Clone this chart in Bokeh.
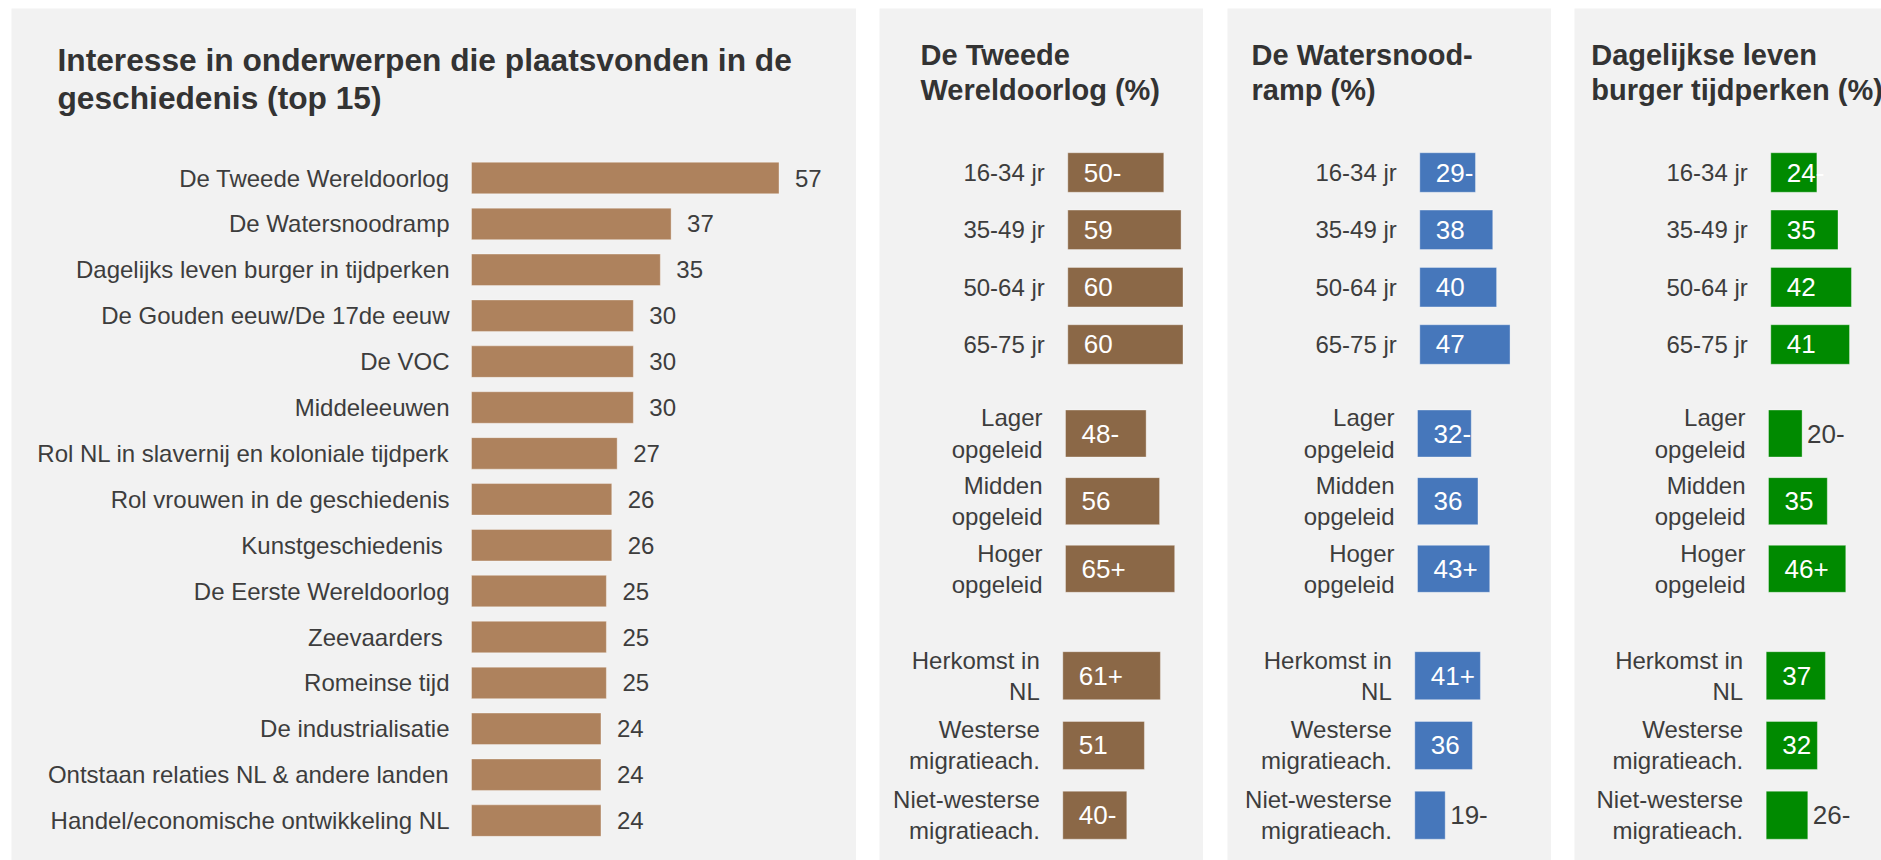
from bokeh.plotting import figure
from bokeh.models import Range1d, Label, ColumnDataSource
from bokeh.layouts import row
from bokeh.embed import file_html
from bokeh.resources import INLINE
from bokeh.core.properties import value

# ---------------- data ----------------
topics = [
    "De Tweede Wereldoorlog",
    "De Watersnoodramp",
    "Dagelijks leven burger in tijdperken",
    "De Gouden eeuw/De 17de eeuw",
    "De VOC",
    "Middeleeuwen",
    "Rol NL in slavernij en koloniale tijdperk",
    "Rol vrouwen in de geschiedenis",
    "Kunstgeschiedenis ",
    "De Eerste Wereldoorlog",
    "Zeevaarders ",
    "Romeinse tijd",
    "De industrialisatie",
    "Ontstaan relaties NL & andere landen",
    "Handel/economische ontwikkeling NL",
]
topic_values = [57, 37, 35, 30, 30, 30, 27, 26, 26, 25, 25, 25, 24, 24, 24]

age_labels = ["16-34 jr", "35-49 jr", "50-64 jr", "65-75 jr"]
edu_labels = ["Lager\nopgeleid", "Midden\nopgeleid", "Hoger\nopgeleid"]
mig_labels = ["Herkomst in\nNL", "Westerse\nmigratieach.", "Niet-westerse\nmigratieach."]

ww2_age = [50, 59, 60, 60]
ww2_age_sig = ["-", "", "", ""]
ww2_edu = [48, 56, 65]
ww2_edu_sig = ["-", "", "+"]
ww2_mig = [61, 51, 40]
ww2_mig_sig = ["+", "", "-"]

water_age = [29, 38, 40, 47]
water_age_sig = ["-", "", "", ""]
water_edu = [32, 36, 43]
water_edu_sig = ["-", "", "+"]
water_mig = [41, 36, 19]
water_mig_sig = ["+", "", "-"]

daily_age = [24, 35, 42, 41]
daily_age_sig = ["-", "", "", ""]
daily_edu = [20, 35, 46]
daily_edu_sig = ["-", "", "+"]
daily_mig = [37, 32, 26]
daily_mig_sig = ["", "", "-"]

title_main = ["Interesse in onderwerpen die plaatsvonden in de", "geschiedenis (top 15)"]
title_ww2 = ["De Tweede", "Wereldoorlog (%)"]
title_water = ["De Watersnood-", "ramp (%)"]
title_daily = ["Dagelijkse leven", "burger tijdperken (%)"]

# ---------------- style ----------------
FONT = "Liberation Sans"
BG = "#f2f2f2"
TXT = "#3d3d3d"
TITLE_C = "#333333"
C_MAIN = "#ae825d"
C_WW2 = "#8b6847"
C_WATER = "#4677bb"
C_DAILY = "#008a00"
H = 852
TOP = 8


def xrange_px(zero, ppu, length):
    return Range1d(start=-zero / ppu, end=(length - zero) / ppu)


def yrange_px(zero, ppu, length):
    # index increases downwards
    return Range1d(start=(length - zero) / ppu, end=-zero / ppu)


def base_fig(w, margin_left):
    p = figure(width=w, height=H, x_range=Range1d(0, 1), y_range=Range1d(0, 1),
               toolbar_location=None, output_backend="svg", min_border=0,
               x_axis_location=None, y_axis_location=None,
               background_fill_color=BG, border_fill_color=BG,
               outline_line_color=None)
    p.grid.visible = False
    p.margin = (TOP, 0, 0, margin_left)
    return p


def add_title(p, lines, x, baselines, size):
    for t, b in zip(lines, baselines):
        p.add_layout(Label(x=x, y=H - b, x_units="screen", y_units="screen", text=t,
                           text_font=FONT, text_font_size=f"{size}px",
                           text_font_style="bold", text_color=TITLE_C,
                           text_baseline="alphabetic", text_align="left"))


# ---------------- panel 1 ----------------
W1 = 845
p1 = base_fig(W1, 11)
X1_ZERO, X1_PPU = 460.0, 5.395
Y1_ZERO, Y1_PITCH, Y1_BAR = 169.5, 45.9, 31.5
p1.x_range = xrange_px(X1_ZERO, X1_PPU, W1)
p1.y_range = yrange_px(Y1_ZERO, Y1_PITCH, H)
src1 = ColumnDataSource(dict(y=list(range(len(topics))), v=topic_values, name=topics,
                             lbl=[str(v) for v in topic_values]))
p1.hbar(y="y", left=0, right="v", height=Y1_BAR / Y1_PITCH, source=src1,
        fill_color=C_MAIN, line_color="white", line_alpha=0.35, line_width=1)
p1.text(x=0, y="y", text="name", source=src1, x_offset=-22, text_align="right",
        text_baseline="middle", text_font=value(FONT), text_font_size="24px", text_color=TXT)
p1.text(x="v", y="y", text="lbl", source=src1, x_offset=16, text_align="left",
        text_baseline="middle", text_font=value(FONT), text_font_size="24px", text_color=TXT)
add_title(p1, title_main, 46, [51, 89], 31.7)


# ---------------- panels 2-4 ----------------
GROUP_Y = {"age": (164.0, 57.33, 39.5), "edu": (425.0, 67.65, 47.0), "mig": (667.2, 69.75, 48.0)}
GROUP_PPU = {"age": 1.92, "edu": 1.68, "mig": 1.6}


def add_group(p, W, name, labels, vals, sig, xzero, color):
    ppu = GROUP_PPU[name]
    yzero, pitch, barpx = GROUP_Y[name]
    p.extra_x_ranges[name] = xrange_px(xzero, ppu, W)
    p.extra_y_ranges[name] = yrange_px(yzero, pitch, H)
    idx = list(range(len(vals)))
    lbls = [f"{v}{s}" for v, s in zip(vals, sig)]
    src = ColumnDataSource(dict(y=idx, v=vals, name=labels, lbl=lbls))
    p.hbar(y="y", left=0, right="v", height=barpx / pitch, source=src,
           fill_color=color, line_color="white", line_alpha=0.35, line_width=1,
           x_range_name=name, y_range_name=name)
    p.text(x=0, y="y", text="name", source=src, x_offset=-23, text_align="right",
           text_baseline="middle", text_font=value(FONT), text_font_size="24px",
           text_line_height=1.15, text_color=TXT, x_range_name=name, y_range_name=name)
    inside = [i for i in idx if vals[i] * ppu >= 45]
    outside = [i for i in idx if vals[i] * ppu < 45]
    if inside:
        s_in = ColumnDataSource(dict(y=inside, v=[vals[i] for i in inside],
                                     lbl=[lbls[i] for i in inside]))
        p.text(x=0, y="y", text="lbl", source=s_in, x_offset=16, text_align="left",
               text_baseline="middle", text_font=value(FONT), text_font_size="26px",
               text_color="white", x_range_name=name, y_range_name=name)
    if outside:
        s_out = ColumnDataSource(dict(y=outside, v=[vals[i] for i in outside],
                                      lbl=[lbls[i] for i in outside]))
        p.text(x="v", y="y", text="lbl", source=s_out, x_offset=5, text_align="left",
               text_baseline="middle", text_font=value(FONT), text_font_size="26px",
               text_color=TXT, x_range_name=name, y_range_name=name)


def side_panel(W, margin, title, title_x, color, data, zeros):
    p = base_fig(W, margin)
    for (name, labels), (vals, sig), z in zip(
            [("age", age_labels), ("edu", edu_labels), ("mig", mig_labels)], data, zeros):
        add_group(p, W, name, labels, vals, sig, z, color)
    add_title(p, title, title_x, [46, 81], 29)
    return p


p2 = side_panel(324, 23, title_ww2, 41, C_WW2,
                [(ww2_age, ww2_age_sig), (ww2_edu, ww2_edu_sig), (ww2_mig, ww2_mig_sig)],
                [188.3, 186.0, 183.3])
p3 = side_panel(324, 24, title_water, 24, C_WATER,
                [(water_age, water_age_sig), (water_edu, water_edu_sig), (water_mig, water_mig_sig)],
                [192.3, 190.0, 187.3])
p4 = side_panel(307, 23, title_daily, 16.7, C_DAILY,
                [(daily_age, daily_age_sig), (daily_edu, daily_edu_sig), (daily_mig, daily_mig_sig)],
                [196.3, 194.0, 191.7])

layout = row(p1, p2, p3, p4)
open("out.html", "w").write(file_html(layout, INLINE))
